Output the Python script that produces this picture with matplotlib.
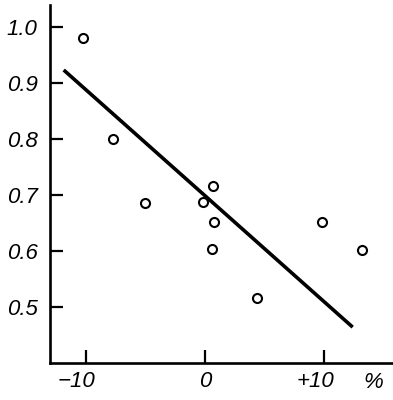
import matplotlib
matplotlib.use("Agg")
import matplotlib.pyplot as plt
from matplotlib.transforms import ScaledTranslation

# Data
x_values = [-10.25, -7.73, -5.04, -0.17, 0.67, 0.76, 0.59, 4.37, 9.83, 13.2]
y_values = [0.980, 0.800, 0.686, 0.688, 0.716, 0.652, 0.604, 0.516, 0.652, 0.602]
fit_x = [-11.85, 12.4]
fit_y = [0.923, 0.464]
x_ticks = [-10, 0, 10]
x_tick_labels = ["\u221210", "0", "+10"]
y_ticks = [0.5, 0.6, 0.7, 0.8, 0.9, 1.0]
y_tick_labels = ["0.5", "0.6", "0.7", "0.8", "0.9", "1.0"]
x_unit = "%"

plt.rcParams['font.family'] = ['Liberation Sans', 'DejaVu Sans']

fig = plt.figure(figsize=(3.93, 4.0), dpi=100)
ax = fig.add_axes([50/393, 37/400, (392-50)/393, (395-37)/400])

ax.plot(fit_x, fit_y, color='black', lw=2.6, solid_capstyle='butt')
ax.plot(x_values, y_values, linestyle='none', marker='o', markersize=6.5,
        markerfacecolor='white', markeredgecolor='black', markeredgewidth=1.5)

ax.set_xlim(-13.0, 15.7)
ax.set_ylim(0.4, 1.039)

for s in ['top', 'right']:
    ax.spines[s].set_visible(False)
for s in ['left', 'bottom']:
    ax.spines[s].set_linewidth(1.9)

ax.set_xticks(x_ticks)
ax.set_xticklabels(x_tick_labels)
ax.set_yticks(y_ticks)
ax.set_yticklabels(y_tick_labels)
ax.tick_params(axis='both', direction='in', length=9.5, width=1.6,
               labelsize=16, pad=9)
ax.tick_params(axis='x', pad=6)
for lab in ax.get_yticklabels():
    lab.set_fontstyle('italic')
for lab in ax.get_xticklabels():
    lab.set_fontstyle('italic')
    if lab.get_text() != "0":
        lab.set_horizontalalignment('right')
        lab.set_transform(lab.get_transform() +
                          ScaledTranslation(10/100, 0, fig.dpi_scale_trans))

ax.text(373/393, 1 - 383/400, x_unit, transform=fig.transFigure,
        ha='center', va='center', fontsize=16, fontstyle='italic')

fig.savefig("out.png", dpi=100)
